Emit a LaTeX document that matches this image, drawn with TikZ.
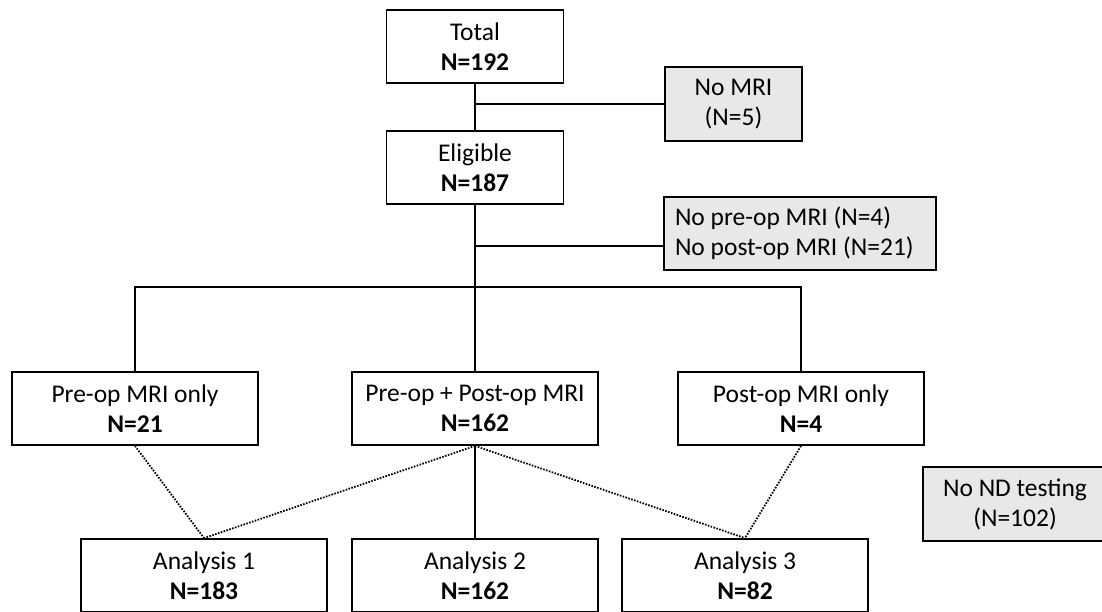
\documentclass[tikz,border=0pt]{standalone}
\usepackage{fontspec}
\setmainfont{Carlito}
\usetikzlibrary{positioning}

\tikzset{
  box/.style={draw, line width=1.8pt, fill=white, align=center, inner sep=2pt,
    minimum width=246pt, minimum height=73pt, font=\fontsize{25.5}{30}\selectfont},
  excl/.style={box, fill=gray!18},
  link/.style={line width=1.8pt},
  dots/.style={line width=1.8pt, dash pattern=on 1.6pt off 1.4pt}
}

\begin{document}
\begin{tikzpicture}[x=1pt,y=-1pt,on grid]
  \useasboundingbox (0,0) rectangle (1102,611);
  % top of the chart
  \node[box,minimum width=177pt](total) at (475,46.5) {Total\\\textbf{N=192}};
  \node[box,minimum width=177pt](elig)[below=121pt of total] {Eligible\\\textbf{N=187}};
  \node[excl,minimum width=137pt,minimum height=74pt](nomri) at (733.5,104) {No MRI\\(N=5)};
  \node[excl,text width=250pt,inner xsep=11pt,align=flush left](noop) at (800,233.5) {No pre-op MRI (N=4)\\No post-op MRI (N=21)};
  % MRI groups
  \node[box](both) at (475,408.5) {Pre-op + Post-op MRI\\\textbf{N=162}};
  \node[box](pre)[left=340pt of both] {Pre-op MRI only\\\textbf{N=21}};
  \node[box](post)[right=326pt of both] {Post-op MRI only\\\textbf{N=4}};
  % analyses
  \node[box](an2)[below=167pt of both] {Analysis 2\\\textbf{N=162}};
  \node[box](an1)[left=271pt of an2] {Analysis 1\\\textbf{N=183}};
  \node[box](an3)[right=270pt of an2] {Analysis 3\\\textbf{N=82}};
  \node[excl,minimum width=184pt,minimum height=74pt](nond) at (1015,504) {No ND testing\\(N=102)};

  \coordinate (j1) at (total.south |- nomri.west);
  \coordinate (j2) at (475,246);
  \coordinate (split) at (475,287);

  \draw[link] (total) -- (elig);
  \draw[link] (j1) -- (nomri);
  \draw[link] (elig) -- (split);
  \draw[link] (j2) -- (j2 -| noop.west);
  \draw[link] (pre) |- (split) -| (post);
  \draw[link] (split) -- (both);
  \draw[link] (both) -- (an2);
  \draw[dots] (pre.south) -- (an1.north);
  \draw[dots] (both.south) -- (an1.north);
  \draw[dots] (both.south) -- (an3.north);
  \draw[dots] (post.south) -- (an3.north);
\end{tikzpicture}
\end{document}
